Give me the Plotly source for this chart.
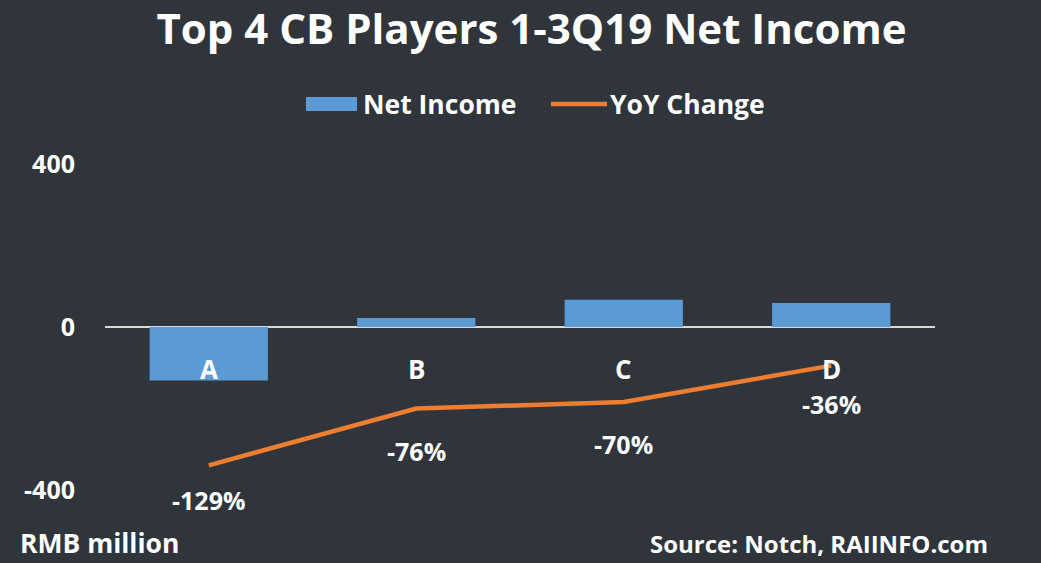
import plotly.graph_objects as go

categories = ["A", "B", "C", "D"]
net_income = [-131, 22, 67, 59]
yoy_change = [-129, -76, -70, -36]
yoy_labels = ["-129%", "-76%", "-70%", "-36%"]
y_ticks = [-400, 0, 400]

FONT = "Open Sans"
W, H = 1041, 563
L, R, T, B = 105, 106, 164, 73
BAR_C = "#5b9bd5"
LINE_C = "#ed7d31"
label_shift = [-35, -42, -42, -38]


def px_x(p):
    return (p - L) / (W - L - R)


def px_y(p):
    return (H - B - p) / (H - T - B)


fig = go.Figure()
fig.add_trace(go.Bar(
    x=categories, y=net_income, name="Net Income",
    marker=dict(color=BAR_C, line=dict(width=0)),
    width=0.57, yaxis="y", showlegend=False,
))
fig.add_trace(go.Scatter(
    x=categories, y=yoy_change, name="YoY Change", mode="lines",
    line=dict(color=LINE_C, width=4.5), yaxis="y2", showlegend=False,
))

annotations = []
for c in categories:
    annotations.append(dict(x=c, y=0, xref="x", yref="y", text="<b>%s</b>" % c,
                            showarrow=False, yshift=-42,
                            font=dict(family=FONT, size=26, color="white")))
for c, v, t, s in zip(categories, yoy_change, yoy_labels, label_shift):
    annotations.append(dict(x=c, y=v, xref="x", yref="y2", text="<b>%s</b>" % t,
                            showarrow=False, yshift=s,
                            font=dict(family=FONT, size=25, color="white")))
annotations.append(dict(x=px_x(18), y=px_y(543), xref="paper", yref="paper",
                        text="<b>RMB million</b>", showarrow=False,
                        xanchor="left", yanchor="middle",
                        font=dict(family=FONT, size=26.5, color="white")))
annotations.append(dict(x=px_x(648), y=px_y(562), xref="paper", yref="paper",
                        text="<b>Source: Notch, RAIINFO.com</b>", showarrow=False,
                        xanchor="left", yanchor="bottom",
                        font=dict(family=FONT, size=24, color="white")))
# manual legend text
annotations.append(dict(x=px_x(361), y=px_y(104), xref="paper", yref="paper",
                        text="<b>Net Income</b>", showarrow=False,
                        xanchor="left", yanchor="middle",
                        font=dict(family=FONT, size=26.5, color="white")))
annotations.append(dict(x=px_x(608), y=px_y(104), xref="paper", yref="paper",
                        text="<b>YoY Change</b>", showarrow=False,
                        xanchor="left", yanchor="middle",
                        font=dict(family=FONT, size=26.5, color="white")))

shapes = [
    dict(type="rect", xref="paper", yref="paper",
         x0=px_x(306), x1=px_x(357), y0=px_y(111), y1=px_y(97),
         fillcolor=BAR_C, line=dict(width=0)),
    dict(type="line", xref="paper", yref="paper",
         x0=px_x(551), x1=px_x(607), y0=px_y(104), y1=px_y(104),
         line=dict(color=LINE_C, width=4.5)),
]

fig.update_layout(
    width=W, height=H,
    margin=dict(l=L, r=R, t=T, b=B, autoexpand=False),
    paper_bgcolor="#30343b", plot_bgcolor="rgba(0,0,0,0)",
    title=dict(text="<b>Top 4 CB Players 1-3Q19 Net Income</b>", x=531.5 / W, xanchor="center",
               y=1 - 29 / H, yanchor="middle",
               font=dict(family=FONT, size=42, color="white")),
    xaxis=dict(showticklabels=False, showgrid=False, zeroline=False, showline=False,
               range=[-0.5, 3.5]),
    yaxis=dict(range=[-400, 400], tickvals=y_ticks, ticktext=["<b>%d</b>" % v for v in y_ticks],
               showgrid=False, zeroline=True, zerolinecolor="#d9d9d9", zerolinewidth=2,
               showline=False, ticklabelstandoff=29,
               tickfont=dict(family=FONT, size=25, color="white")),
    yaxis2=dict(range=[-152, 152], overlaying="y", side="right", visible=False),
    annotations=annotations,
    shapes=shapes,
    showlegend=False,
)

fig.write_html("out.html", config={"displayModeBar": False},
               post_script="document.body.style.margin='0';document.body.style.overflow='hidden';")
